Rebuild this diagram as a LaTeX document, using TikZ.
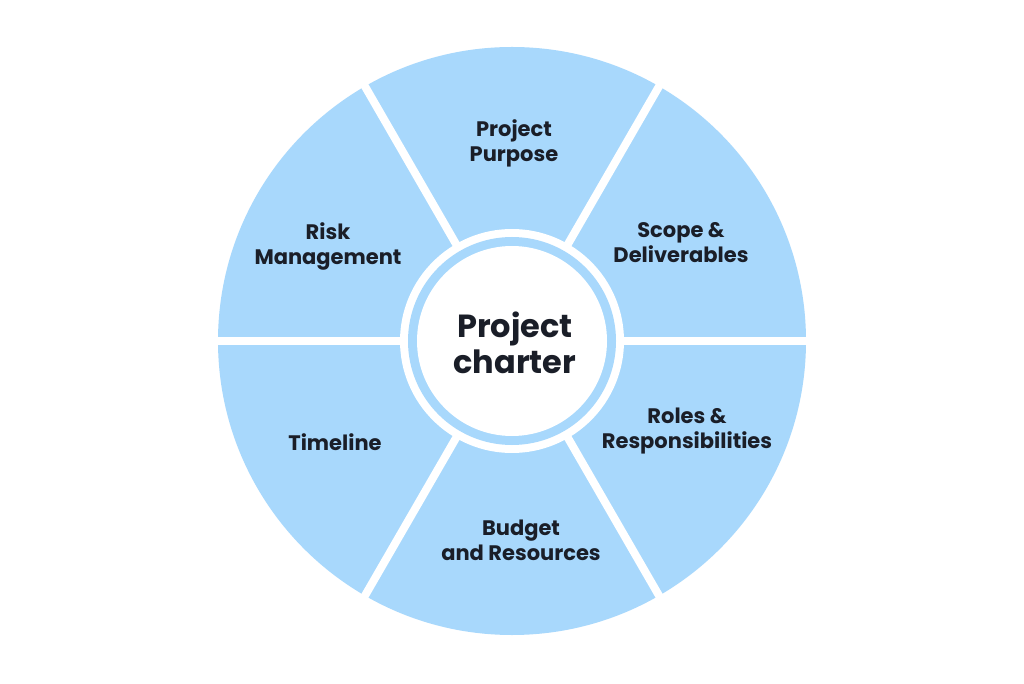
\documentclass[tikz,border=0pt]{standalone}
\usepackage{fontspec}
\setmainfont{Poppins}
\definecolor{segblue}{RGB}{168,216,252}
\definecolor{txt}{RGB}{26,30,40}
\begin{document}
\begin{tikzpicture}[x=1pt,y=1pt,
  lbl/.style={font=\fontsize{21}{25}\selectfont\bfseries, text=txt, align=center, inner sep=0pt},
  big/.style={font=\fontsize{32}{36}\selectfont\bfseries, text=txt, align=center, inner sep=0pt},
  gap/.style={draw=white, line width=8pt}]
\useasboundingbox (0,0) rectangle (1024,683);
\fill[white] (0,0) rectangle (1024,683);
\coordinate (c) at (512,342);
\fill[segblue] (c) circle[radius=294];
\foreach \a in {0,60,120,180,240,300}
  \draw[gap] (c) -- ++(\a:300);
\fill[white] (c) circle[radius=112];
\fill[segblue] (c) circle[radius=104];
\fill[white] (c) circle[radius=95];
\node[big] (center) at (515,340) {Project\\charter};
\node[lbl] (purpose) at (514,540) {Project\\Purpose};
\node[lbl] (scope) at (681,440) {Scope \&\\Deliverables};
\node[lbl] (roles) at (687,252) {Roles \&\\Responsibilities};
\node[lbl] (budget) at (521,143) {Budget\\and Resources};
\node[lbl] (timeline) at (335,241) {Timeline};
\node[lbl] (risk) at (328,437) {Risk\\Management};
\end{tikzpicture}
\end{document}
